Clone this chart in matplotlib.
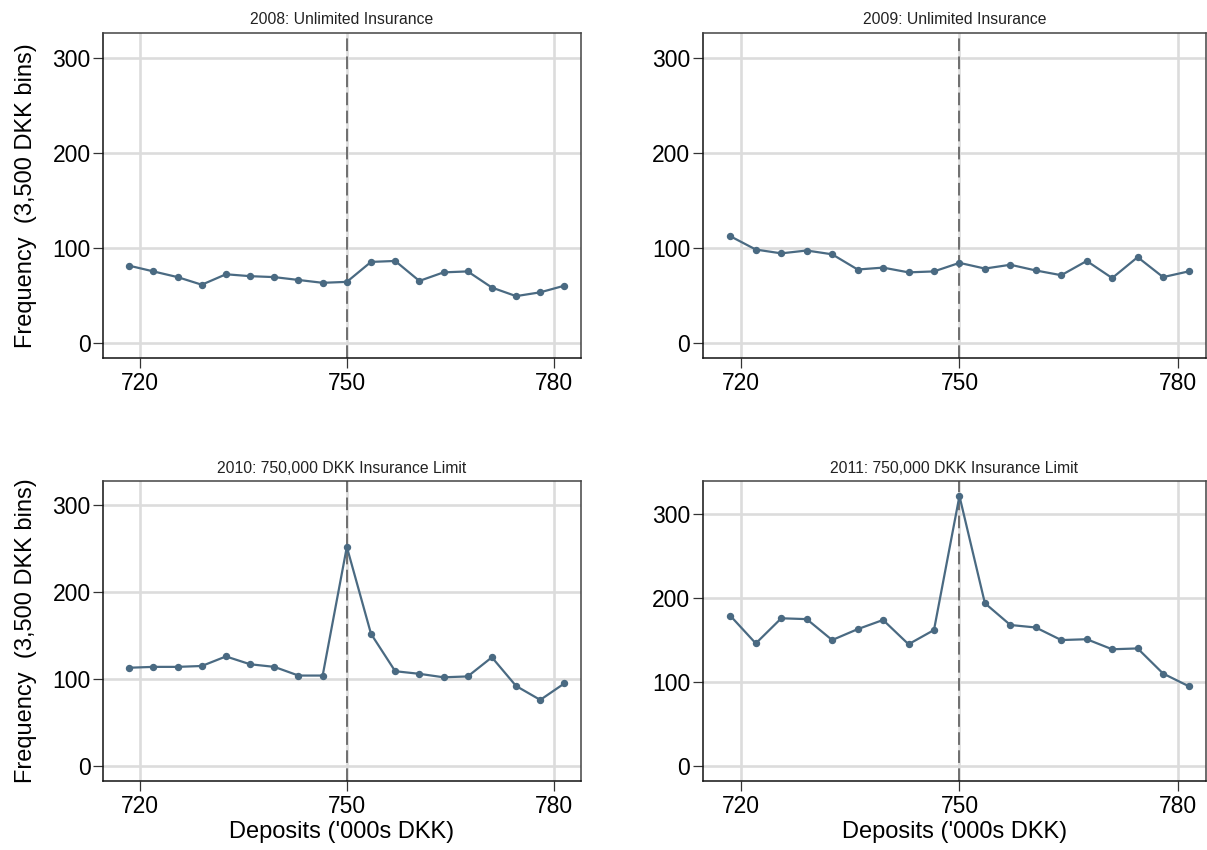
import matplotlib
matplotlib.use("Agg")
import matplotlib.pyplot as plt

plt.rcParams['font.family'] = ['Liberation Sans', 'DejaVu Sans']

# bin centres, '000s DKK (3,500 DKK bins)
deposits = [718.5, 722.0, 725.5, 729.0, 732.5, 736.0, 739.5, 743.0, 746.5, 750.0,
            753.5, 757.0, 760.5, 764.0, 767.5, 771.0, 774.5, 778.0, 781.5]

freq_2008 = [81, 75, 69, 61, 72, 70, 69, 66, 63, 64, 85, 86, 65, 74, 75, 58, 49, 53, 60]
freq_2009 = [112, 98, 94, 97, 93, 77, 79, 74, 75, 84, 78, 82, 76, 71, 86, 68, 90, 69, 75]
freq_2010 = [113, 114, 114, 115, 126, 117, 114, 104, 104, 252, 152, 109, 106, 102, 103, 125, 92, 76, 95]
freq_2011 = [179, 146, 176, 175, 150, 163, 174, 145, 162, 322, 194, 168, 165, 150, 151, 139, 140, 110, 95]

titles = ["2008: Unlimited Insurance", "2009: Unlimited Insurance",
          "2010: 750,000 DKK Insurance Limit", "2011: 750,000 DKK Insurance Limit"]
x_ticks = [720, 750, 780]
y_ticks = [0, 100, 200, 300]
limit = 750

line_col = "#4a6a82"
grid_col = "#dcdcdc"

fig = plt.figure(figsize=(12.07, 8.5), dpi=100)

W, H = 1207, 850
def box(l, r, t, b):
    return [l / W, 1 - b / H, (r - l) / W, (b - t) / H]

panels = [
    (box(103, 581, 32.7, 357.7), freq_2008, (-15.8, 326.2)),
    (box(702.7, 1206, 32.7, 357.7), freq_2009, (-15.8, 326.2)),
    (box(103, 581, 481.2, 781), freq_2010, (-17.3, 327.6)),
    (box(702.7, 1206, 481.2, 781), freq_2011, (-18.3, 339.7)),
]

for i, (pos, freq, ylim) in enumerate(panels):
    ax = fig.add_axes(pos)
    for v in x_ticks:
        ax.axvline(v, color=grid_col, lw=1.9, zorder=0)
    for v in y_ticks:
        ax.axhline(v, color=grid_col, lw=1.9, zorder=0)
    ax.axvline(limit, color="#666666", lw=1.3, dashes=(7, 3), zorder=1)
    ax.plot(deposits, freq, color=line_col, lw=1.6, marker="o", ms=4.3,
            markerfacecolor=line_col, markeredgecolor=line_col, zorder=3)

    ax.set_xlim(714.7, 783.9)
    ax.set_ylim(*ylim)
    ax.set_xticks(x_ticks)
    ax.set_yticks(y_ticks)
    ax.tick_params(axis="both", labelsize=16.5, length=7, width=0.9,
                   color="#333333", pad=2)
    ax.tick_params(axis="x", pad=3)
    for s in ["left", "bottom"]:
        ax.spines[s].set_color("#111111")
        ax.spines[s].set_linewidth(1.1)
    for s in ["top", "right"]:
        ax.spines[s].set_color("#444444")
        ax.spines[s].set_linewidth(1.1)

    ax.set_title(titles[i], fontsize=11.3, color="#222222", pad=6)
    if i % 2 == 0:
        ax.set_ylabel("Frequency  (3,500 DKK bins)", fontsize=17, labelpad=11)
    if i >= 2:
        ax.set_xlabel("Deposits ('000s DKK)", fontsize=17, labelpad=2)

fig.savefig("out.png", dpi=100)
